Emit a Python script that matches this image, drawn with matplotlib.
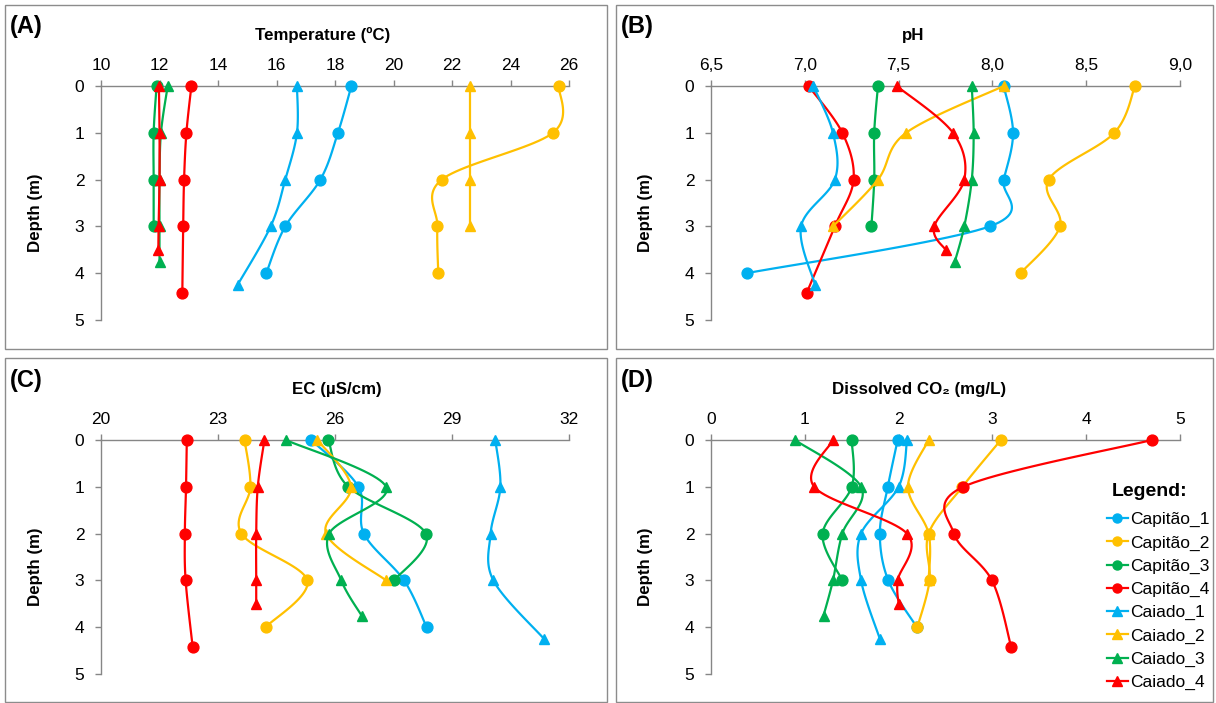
import matplotlib
matplotlib.use("Agg")
import matplotlib.pyplot as plt
import numpy as np
from matplotlib.lines import Line2D
from matplotlib.patches import Rectangle

plt.rcParams["font.family"] = ["Liberation Sans", "DejaVu Sans"]

# ---- data ----
SERIES = ["Capitão_1", "Capitão_2", "Capitão_3", "Capitão_4",
          "Caiado_1", "Caiado_2", "Caiado_3", "Caiado_4"]

depth = {
    "Capitão_1": [0, 1, 2, 3, 4],
    "Capitão_2": [0, 1, 2, 3, 4],
    "Capitão_3": [0, 1, 2, 3],
    "Capitão_4": [0, 1, 2, 3, 4.42],
    "Caiado_1": [0, 1, 2, 3, 4.25],
    "Caiado_2": [0, 1, 2, 3],
    "Caiado_3": [0, 1, 2, 3, 3.75],
    "Caiado_4": [0, 1, 2, 3, 3.5],
}

temperature = {
    "Capitão_1": [18.56, 18.1, 17.5, 16.3, 15.65],
    "Capitão_2": [25.65, 25.45, 21.65, 21.5, 21.53],
    "Capitão_3": [11.9, 11.8, 11.8, 11.8],
    "Capitão_4": [13.09, 12.92, 12.84, 12.81, 12.78],
    "Caiado_1": [16.7, 16.7, 16.3, 15.8, 14.67],
    "Caiado_2": [22.6, 22.6, 22.6, 22.6],
    "Caiado_3": [12.28, 12.05, 12.0, 12.0, 12.0],
    "Caiado_4": [11.98, 12.0, 12.0, 11.97, 11.96],
}

ph = {
    "Capitão_1": [8.06, 8.11, 8.06, 7.985, 6.69],
    "Capitão_2": [8.76, 8.65, 8.30, 8.36, 8.15],
    "Capitão_3": [7.39, 7.37, 7.37, 7.355],
    "Capitão_4": [7.02, 7.2, 7.26, 7.16, 7.01],
    "Caiado_1": [7.045, 7.15, 7.16, 6.98, 7.055],
    "Caiado_2": [8.06, 7.54, 7.39, 7.15],
    "Caiado_3": [7.89, 7.90, 7.89, 7.85, 7.80],
    "Caiado_4": [7.49, 7.79, 7.85, 7.69, 7.75],
}

ec = {
    "Capitão_1": [25.39, 26.6, 26.74, 27.77, 28.35],
    "Capitão_2": [23.68, 23.83, 23.6, 25.29, 24.22],
    "Capitão_3": [25.83, 26.34, 28.33, 27.52],
    "Capitão_4": [22.2, 22.18, 22.15, 22.17, 22.35],
    "Caiado_1": [30.11, 30.24, 29.99, 30.06, 31.36],
    "Caiado_2": [25.55, 26.41, 25.77, 27.31],
    "Caiado_3": [24.74, 27.31, 25.85, 26.16, 26.68],
    "Caiado_4": [24.19, 24.02, 23.98, 23.98, 23.98],
}

co2 = {
    "Capitão_1": [1.99, 1.885, 1.80, 1.89, 2.195],
    "Capitão_2": [3.09, 2.68, 2.32, 2.33, 2.2],
    "Capitão_3": [1.50, 1.50, 1.19, 1.40],
    "Capitão_4": [4.70, 2.69, 2.59, 2.995, 3.2],
    "Caiado_1": [2.09, 2.0, 1.60, 1.60, 1.80],
    "Caiado_2": [2.32, 2.1, 2.32, 2.32],
    "Caiado_3": [0.895, 1.60, 1.40, 1.30, 1.2],
    "Caiado_4": [1.30, 1.10, 2.09, 1.99, 2.0],
}

temp_ticks = [10, 12, 14, 16, 18, 20, 22, 24, 26]
temp_labels = ["10", "12", "14", "16", "18", "20", "22", "24", "26"]
ph_ticks = [6.5, 7.0, 7.5, 8.0, 8.5, 9.0]
ph_labels = ["6,5", "7,0", "7,5", "8,0", "8,5", "9,0"]
ec_ticks = [20, 23, 26, 29, 32]
ec_labels = ["20", "23", "26", "29", "32"]
co2_ticks = [0, 1, 2, 3, 4, 5]
co2_labels = ["0", "1", "2", "3", "4", "5"]
depth_ticks = [0, 1, 2, 3, 4, 5]

# ---- styles ----
COLORS = {"1": "#00B0F0", "2": "#FFC000", "3": "#00B050", "4": "#FF0000"}
GRAY = "#868686"
W, H = 1216, 703


def style_of(name):
    color = COLORS[name[-1]]
    marker = "o" if name.startswith("Capit") else "^"
    return color, marker


def smooth(ax, x, y, n=24):
    """Excel-like smoothed line (Catmull-Rom in display space)."""
    pts = ax.transData.transform(np.column_stack([x, y]))
    if len(pts) < 3:
        return x, y
    P = np.vstack([pts[0], pts, pts[-1]])
    t = np.linspace(0, 1, n)[:, None]
    segs = []
    for i in range(1, len(P) - 2):
        p0, p1, p2, p3 = P[i - 1], P[i], P[i + 1], P[i + 2]
        segs.append(0.5 * (2 * p1 + (-p0 + p2) * t
                           + (2 * p0 - 5 * p1 + 4 * p2 - p3) * t ** 2
                           + (-p0 + 3 * p1 - 3 * p2 + p3) * t ** 3))
    curve = ax.transData.inverted().transform(np.vstack(segs))
    return curve[:, 0], curve[:, 1]


fig = plt.figure(figsize=(W / 100, H / 100), dpi=100)

# panel frames (pixels: x0, y0_top, x1, y1_bottom)
frames = [(5, 5, 607, 349), (616, 5, 1213, 349), (5, 358, 607, 702), (616, 358, 1213, 702)]
for x0, y0, x1, y1 in frames:
    fig.add_artist(Rectangle((x0 / W, 1 - y1 / H), (x1 - x0) / W, (y1 - y0) / H,
                             transform=fig.transFigure, fill=False,
                             edgecolor="#8c8c8c", linewidth=1.0))

panels = [
    ("(A)", "Temperature (ºC)", temperature, temp_ticks, temp_labels, (101, 86, 569, 320), 0.474),
    ("(B)", "pH", ph, ph_ticks, ph_labels, (711, 86, 1180, 320), 0.43),
    ("(C)", "EC (µS/cm)", ec, ec_ticks, ec_labels, (101, 440, 569, 674), 0.504),
    ("(D)", "Dissolved CO₂ (mg/L)", co2, co2_ticks, co2_labels, (711, 440, 1180, 674), 0.443),
]

for (letter, xlabel, values, ticks, labels, box, lx), (fx0, fy0, _, _) in zip(panels, frames):
    x0, y0, x1, y1 = box
    ax = fig.add_axes([x0 / W, 1 - y1 / H, (x1 - x0) / W, (y1 - y0) / H])
    ax.set_xlim(ticks[0], ticks[-1])
    ax.set_ylim(5, 0)
    ax.xaxis.tick_top()
    ax.xaxis.set_label_position("top")
    ax.set_xticks(ticks)
    ax.set_xticklabels(labels)
    ax.set_yticks(depth_ticks)
    for s in ("bottom", "right"):
        ax.spines[s].set_visible(False)
    for s in ("top", "left"):
        ax.spines[s].set_color(GRAY)
        ax.spines[s].set_linewidth(1.0)
    ax.tick_params(axis="x", direction="out", length=4, width=1, color=GRAY,
                   labelsize=12.5, pad=5)
    ax.tick_params(axis="y", direction="out", length=4, width=1, color=GRAY,
                   labelsize=12.5, pad=8)
    ax.set_xlabel(xlabel, fontsize=12.2, fontweight="bold")
    ax.xaxis.set_label_coords(lx, 1.197)
    ax.set_ylabel("Depth (m)", fontsize=12.2, fontweight="bold")
    ax.yaxis.set_label_coords(-0.123, 0.46)
    ax.patch.set_alpha(0)

    for k, name in enumerate(SERIES):
        color, marker = style_of(name)
        xs, ys = values[name], depth[name]
        cx, cy = smooth(ax, xs, ys)
        ax.plot(cx, cy, color=color, linewidth=1.6, zorder=3 + k, clip_on=False)
        ax.plot(xs, ys, linestyle="none", marker=marker, markersize=7.8,
                color=color, zorder=3 + k, clip_on=False)

    fig.text((fx0 + 5) / W, 1 - (fy0 + 22) / H, letter, fontsize=17,
             fontweight="bold", va="center", ha="left")

handles = []
for name in SERIES:
    color, marker = style_of(name)
    handles.append(Line2D([], [], color=color, marker=marker, markersize=6.5,
                          linewidth=1.6))
fig.text(1150 / W, 1 - 492 / H, "Legend:", fontsize=14, fontweight="bold",
         ha="center", va="center")
fig.legend(handles, SERIES, loc="upper left",
           bbox_to_anchor=(1107 / W, 1 - 512 / H), frameon=False,
           fontsize=12.5, handlelength=1.2, handletextpad=0.15,
           labelspacing=0.46, borderpad=0, borderaxespad=0)

fig.savefig("out.png", dpi=100, facecolor="white")
